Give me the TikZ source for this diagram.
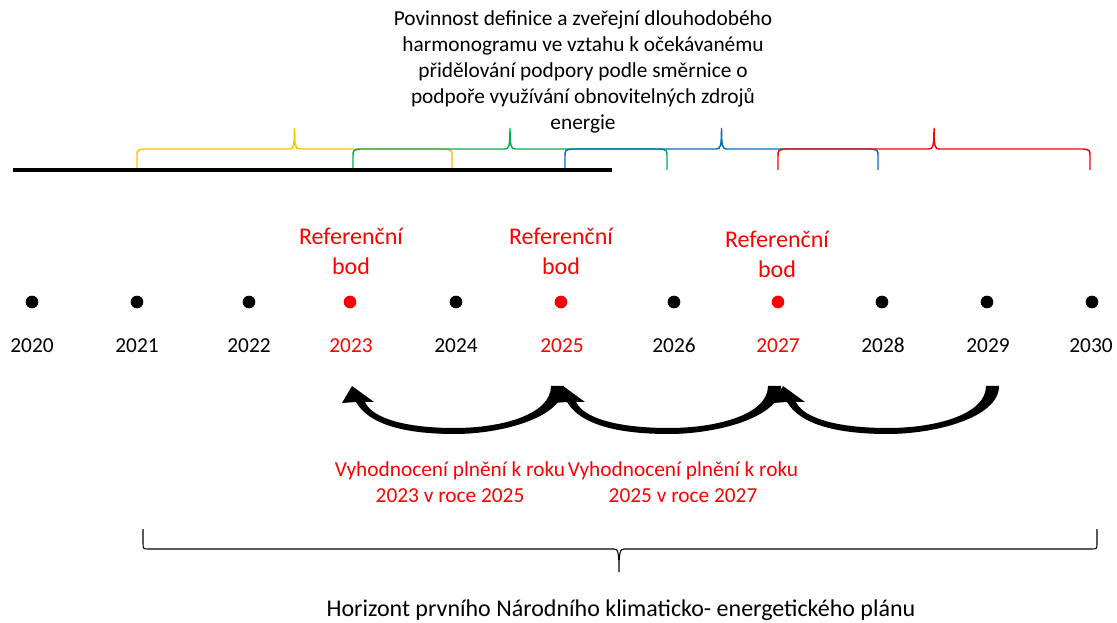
\documentclass[tikz,border=0pt]{standalone}
\usepackage{fontspec}
\setmainfont{Carlito}
\definecolor{cyellow}{HTML}{FFC000}
\definecolor{cgreen}{HTML}{00B050}
\definecolor{cblue}{HTML}{0070C0}
\definecolor{cred}{HTML}{FF0000}
\newcommand\mybrace[4]{% color, x1, xm, x2
  \draw[#1,line width=1.1pt] (#2,170) -- (#2,157) .. controls (#2,150) .. ({#2+7},149)
    -- ({#3-5},149) .. controls ({#3-1},149) and (#3,146) .. (#3,128)
    .. controls (#3,146) and ({#3+1},149) .. ({#3+5},149)
    -- ({#4-7},149) .. controls (#4,150) .. (#4,157) -- (#4,170);}
\newcommand\bigarrow[2]{%
  \pgfmathsetmacro\aw{#2-#1}%
  \fill[black] ({#1+\aw+6},386) .. controls ({#1+\aw+6},418) and ({#1+0.72*\aw},434) .. ({#1+0.5*\aw},434)
    .. controls ({#1+0.25*\aw},434) and ({#1+0.08*\aw},424) .. ({#1+4},402)
    -- ({#1-10},403) -- (#1,386) -- ({#1+22},402) -- ({#1+13},402)
    .. controls ({#1+0.1*\aw},419) and ({#1+0.27*\aw},428) .. ({#1+0.5*\aw},428)
    .. controls ({#1+0.72*\aw},428) and ({#1+\aw-7},415) .. ({#1+\aw-7},386) -- cycle;}
\begin{document}
\begin{tikzpicture}[x=0.75pt,y=-0.75pt,
  txt/.style={font=\fontsize{16}{19.5}\selectfont,align=center,inner sep=0pt},
  yeartxt/.style={font=\fontsize{16}{19.5}\selectfont,inner sep=0pt,anchor=base},
  reftxt/.style={font=\fontsize{18}{22.5}\selectfont,align=center,inner sep=0pt,text=cred},
  dot/.style={circle,fill=black,inner sep=0pt,minimum size=9.5pt},
  rdot/.style={dot,fill=cred}]
\useasboundingbox (0,0) rectangle (1117,623);
% top text
\node[txt] (top) at (583,72) {Povinnost definice a zveřejní dlouhodobého\\harmonogramu ve vztahu k očekávanému\\přidělování podpory podle směrnice o\\podpoře využívání obnovitelných zdrojů\\energie};
% braces
\mybrace{cyellow}{137}{294.5}{452}
\mybrace{cgreen}{353}{510}{667}
\mybrace{cblue}{565}{721.5}{878}
\mybrace{cred}{778}{934}{1090}
% black line
\coordinate (la) at (13,170);
\coordinate (lb) at (612,170);
\draw[line width=2.8pt] (la) -- (lb);
% reference labels
\node[reftxt] (r1) at (351,251) {Referenční\\bod};
\node[reftxt] (r2) at (561,251) {Referenční\\bod};
\node[reftxt] (r3) at (777,254) {Referenční\\bod};
% dots and years
\foreach \yr/\x/\s in {2020/32/dot,2021/137/dot,2022/249/dot,2023/350/rdot,2024/456/dot,2025/561/rdot,2026/674/dot,2027/778/rdot,2028/882/dot,2029/987/dot,2030/1092/dot}{
  \node[\s] (d\yr) at (\x,302) {};
}
\foreach \yr/\x in {2020/32,2021/137,2022/249,2024/456,2026/674,2028/883,2029/988,2030/1091}{
  \node[yeartxt] (y\yr) at (\x,353) {\yr};
}
\foreach \yr/\x in {2023/351,2025/562,2027/778}{
  \node[yeartxt,text=cred] (y\yr) at (\x,353) {\yr};
}
% arrows
\bigarrow{352}{558}
\bigarrow{563}{775}
\bigarrow{783}{993}
% evaluation labels
\node[txt,text=cred] (e1) at (450,482) {Vyhodnocení plnění k roku\\2023 v roce 2025};
\node[txt,text=cred] (e2) at (683,482) {Vyhodnocení plnění k roku\\2025 v roce 2027};
% bottom brace
\draw[line width=0.8pt] (143,529) -- (143,543) .. controls (143,549) .. (149,549)
  -- (614,549) .. controls (618,549) and (619,552) .. (619,572)
  .. controls (619,552) and (620,549) .. (624,549)
  -- (1091,549) .. controls (1097,549) .. (1097,543) -- (1097,529);
\node[font=\fontsize{18}{22}\selectfont,inner sep=0pt] (hz) at (621,610) {Horizont prvního Národního klimaticko- energetického plánu};
\end{tikzpicture}
\end{document}
